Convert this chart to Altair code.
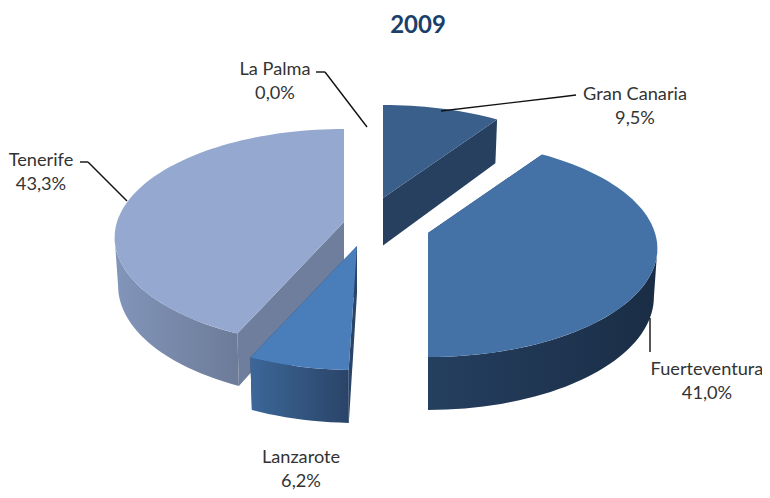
import math
import altair as alt

title_text = "2009"
names = ["La Palma", "Gran Canaria", "Fuerteventura", "Lanzarote", "Tenerife"]
shares = [0.0, 9.5, 41.0, 6.2, 43.3]
pct_labels = ["0,0%", "9,5%", "41,0%", "6,2%", "43,3%"]

# style: exploded apex of each slice, and face colours
apex = {"Gran Canaria": (383, 198), "Fuerteventura": (428, 233), "Lanzarote": (357, 246), "Tenerife": (344, 222)}
top_col = {"Gran Canaria": "#3A5F8B", "Fuerteventura": "#4472A6", "Lanzarote": "#4A7EBB", "Tenerife": "#95A8CF"}
wall_col = {"Gran Canaria": ("#27405F", "#27405F"), "Fuerteventura": ("#253F60", "#1A2D45"),
            "Lanzarote": ("#3C6798", "#2A4468"), "Tenerife": ("#8295BA", "#6C7B98")}
cut_col = {"Gran Canaria": "#27405F", "Fuerteventura": "#253F60", "Lanzarote": "#2A4468", "Tenerife": "#6F7E9C"}
end_trim = {"Fuerteventura": 1.8}
label_pos = {"La Palma": (275, 75), "Gran Canaria": (635, 100), "Fuerteventura": (707, 375),
             "Lanzarote": (301, 463), "Tenerife": (41, 166)}
leaders = [[(316, 72), (325, 72), (367, 127)], [(441, 111), (560, 97), (576, 95)],
           [(80, 162), (88, 162), (127, 201)], [(650, 318), (650, 352)]]
A, B, P, D = 227.0, 106.3, 0.143, 47.5
X_SHRINK = 0.985


def rim(name, deg):
    t = math.radians(deg)
    w = 1 + P * math.cos(t)
    ax, ay = apex[name]
    return (ax + A * math.sin(t) / w, ay - B * math.cos(t) / w, 1 / w, ax)


def down(pt):
    return (pt[3] + (pt[0] - pt[3]) * X_SHRINK, pt[1] + D * pt[2] ** 0.7)


def piece(points, fill):
    ring = [list(p[:2]) for p in points]
    ring.append(ring[0])
    feat = {"type": "Feature", "properties": {}, "geometry": {"type": "Polygon", "coordinates": [ring]}}
    return alt.Chart(alt.Data(values=[feat])).mark_geoshape(fill=fill, stroke=None, strokeWidth=0).project(
        type="identity", scale=1, translate=[-8, -8])


def arc_of(name, a, b):
    steps = max(2, int((b - a) / 2))
    return [rim(name, a + (b - a) * i / steps) for i in range(steps + 1)]


spans = {}
acc = 0.0
for n, s in zip(names, shares):
    spans[n] = (acc * 3.6, (acc + s) * 3.6 - end_trim.get(n, 0))
    acc += s

front_from = math.degrees(math.acos(-P))
front_to = 360 - front_from

layers = []
for n in ["Gran Canaria", "Tenerife", "Fuerteventura", "Lanzarote"]:
    t1, t2 = spans[n]
    arc = arc_of(n, t1, t2)
    ax, ay = apex[n]
    c = (ax, ay, 1.0, ax)
    cut1 = [c, arc[0], down(arc[0]), down(c)]
    cut2 = [c, arc[-1], down(arc[-1]), down(c)]
    vis1 = math.cos(math.radians(t1 - 90)) < -0.05
    vis2 = math.cos(math.radians(t2 + 90)) < -0.05
    if not vis1:
        layers.append(piece(cut1, cut_col[n]))
    if not vis2:
        layers.append(piece(cut2, cut_col[n]))
    w1, w2 = max(t1, front_from), min(t2, front_to)
    if w2 > w1:
        warc = arc_of(n, w1, w2)
        grad = alt.LinearGradient(gradient="linear", x1=0, x2=1, y1=0, y2=0,
                                  stops=[alt.GradientStop(color=wall_col[n][0], offset=0),
                                         alt.GradientStop(color=wall_col[n][1], offset=1)])
        layers.append(piece(warc + [down(p) for p in reversed(warc)], grad))
    if vis1:
        layers.append(piece(cut1, cut_col[n]))
    if vis2:
        layers.append(piece(cut2, cut_col[n]))
    layers.append(piece([c] + arc, top_col[n]))

blank = alt.Data(values=[{"a": 0}])
for path in leaders:
    for (x0, y0), (x1, y1) in zip(path, path[1:]):
        layers.append(alt.Chart(blank).mark_rule(color="#111111", strokeWidth=1.4).encode(
            x=alt.value(x0 - 8), x2=alt.value(x1 - 8), y=alt.value(y0 - 8), y2=alt.value(y1 - 8)))

for n, p in zip(names, pct_labels):
    lx, ly = label_pos[n]
    for txt, dy in ((n, 0), (p, 24)):
        layers.append(alt.Chart(alt.Data(values=[{"t": txt}])).mark_text(
            font="Lato", fontSize=18.2, color="#333333", align="center", baseline="alphabetic").encode(
            text="t:N", x=alt.value(lx - 8), y=alt.value(ly + dy - 8)))

layers.append(alt.Chart(alt.Data(values=[{"t": title_text}])).mark_text(
    font="Lato", fontSize=24, fontWeight="bold", color="#1B3F6B", align="center", baseline="alphabetic").encode(
    text="t:N", x=alt.value(410), y=alt.value(25)))

chart = alt.layer(*layers).properties(
    width=754, height=482, padding=0, background="white",
    autosize=alt.AutoSizeParams(type="none")).configure_view(stroke=None)

chart.save("out.html", embed_options={"renderer": "svg", "actions": False})
